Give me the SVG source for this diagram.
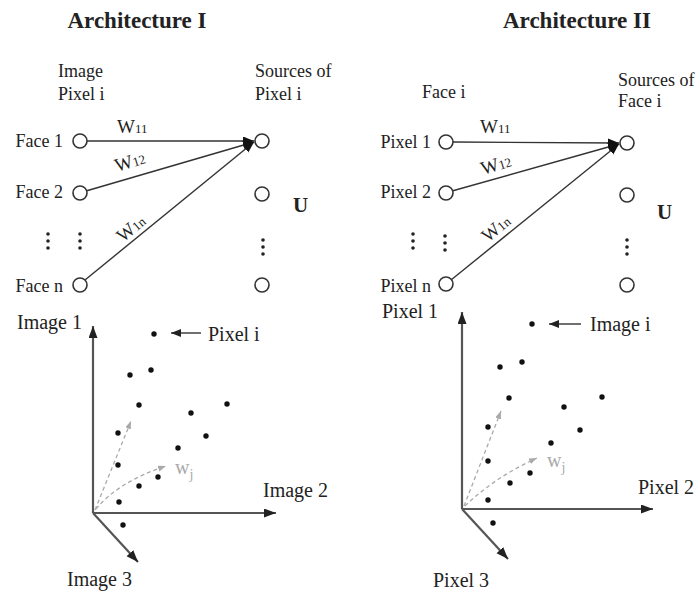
<svg xmlns="http://www.w3.org/2000/svg" width="699" height="595" viewBox="0 0 699 595">
  <style>
    text { font-family: "Liberation Serif", "Times New Roman", serif; fill: #222; }
    .title { font-size: 23px; font-weight: bold; }
    .lbl { font-size: 18px; }
    .ax { font-size: 20px; }
    .w { font-size: 19px; }
    .sub { font-size: 13px; }
    .u { font-size: 21px; font-weight: bold; }
    .node { fill: #fff; stroke: #333; stroke-width: 1.6; }
    .conn { stroke: #333; stroke-width: 1.4; fill: none; }
    .axis { stroke: #555; stroke-width: 2.2; fill: none; }
    .pt { fill: #111; }
    .ell { fill: #222; }
    .vec { stroke: #aaa; stroke-width: 1.3; stroke-dasharray: 4 3; fill: none; }
    .wj { fill: #aaa; font-size: 20px; }
  </style>
  <defs>
    <marker id="head" markerUnits="userSpaceOnUse" markerWidth="12" markerHeight="10" refX="11" refY="4.5" orient="auto">
      <path d="M0,0 L11,4.5 L0,9 z" fill="#111"/>
    </marker>
    <marker id="axhead" markerUnits="userSpaceOnUse" markerWidth="13" markerHeight="10" refX="12" refY="4.5" orient="auto">
      <path d="M0,0 L12,4.5 L0,9 z" fill="#222"/>
    </marker>
    <marker id="small" markerUnits="userSpaceOnUse" markerWidth="11" markerHeight="9" refX="10" refY="4" orient="auto">
      <path d="M0,0 L10,4 L0,8 z" fill="#222"/>
    </marker>
    <marker id="grayhead" markerUnits="userSpaceOnUse" markerWidth="9" markerHeight="8" refX="8" refY="3" orient="auto">
      <path d="M0,0 L8,3 L0,6 z" fill="#aaa"/>
    </marker>
  </defs>

  <!-- ===== Architecture I ===== -->
  <text class="title" x="137" y="28" text-anchor="middle">Architecture I</text>
  <text class="lbl" x="58" y="77">Image</text>
  <text class="lbl" x="58" y="100">Pixel i</text>
  <text class="lbl" x="255" y="77">Sources of</text>
  <text class="lbl" x="255" y="100">Pixel i</text>

  <g id="a1-face1"><text class="lbl" x="63" y="147" text-anchor="end">Face 1</text><circle class="node" cx="80" cy="141" r="7"/></g>
  <g id="a1-face2"><text class="lbl" x="63" y="198" text-anchor="end">Face 2</text><circle class="node" cx="80" cy="193" r="7"/></g>
  <g id="a1-facen"><text class="lbl" x="63" y="292" text-anchor="end">Face n</text><circle class="node" cx="80" cy="285" r="7"/></g>
  <g id="a1-ellipsis">
    <circle class="ell" cx="48" cy="234" r="1.8"/><circle class="ell" cx="48" cy="241" r="1.8"/><circle class="ell" cx="48" cy="248" r="1.8"/>
    <circle class="ell" cx="80" cy="234" r="1.8"/><circle class="ell" cx="80" cy="241" r="1.8"/><circle class="ell" cx="80" cy="248" r="1.8"/>
    <circle class="ell" cx="263" cy="240" r="1.8"/><circle class="ell" cx="263" cy="247" r="1.8"/><circle class="ell" cx="263" cy="254" r="1.8"/>
  </g>
  <g id="a1-src1"><circle class="node" cx="262" cy="141" r="7"/></g>
  <g id="a1-src2"><circle class="node" cx="262" cy="194" r="7"/></g>
  <g id="a1-srcn"><circle class="node" cx="262" cy="285" r="7"/></g>
  <text class="u" x="293" y="212">U</text>

  <g id="a1-connectors">
    <path class="conn" d="M87,141 L254,141" marker-end="url(#head)"/>
    <path class="conn" d="M86,191 L254,142" marker-end="url(#head)"/>
    <path class="conn" d="M85,280 L254,142" marker-end="url(#head)"/>
    <text class="w" x="117" y="133">W<tspan class="sub">11</tspan></text>
    <text class="w" transform="translate(117,172) rotate(-17)">W<tspan class="sub">12</tspan></text>
    <text class="w" transform="translate(123,243) rotate(-40)">W<tspan class="sub">1n</tspan></text>
  </g>

  <!-- ===== Architecture II ===== -->
  <text class="title" x="577" y="28" text-anchor="middle">Architecture II</text>
  <text class="lbl" x="422" y="98">Face i</text>
  <text class="lbl" x="618" y="86">Sources of</text>
  <text class="lbl" x="618" y="107">Face i</text>

  <g id="a2-pixel1"><text class="lbl" x="431" y="148" text-anchor="end">Pixel 1</text><circle class="node" cx="446" cy="142" r="7"/></g>
  <g id="a2-pixel2"><text class="lbl" x="431" y="198" text-anchor="end">Pixel 2</text><circle class="node" cx="446" cy="193" r="7"/></g>
  <g id="a2-pixeln"><text class="lbl" x="431" y="292" text-anchor="end">Pixel n</text><circle class="node" cx="446" cy="284" r="7"/></g>
  <g id="a2-ellipsis">
    <circle class="ell" cx="413" cy="234" r="1.8"/><circle class="ell" cx="413" cy="241" r="1.8"/><circle class="ell" cx="413" cy="248" r="1.8"/>
    <circle class="ell" cx="445" cy="236" r="1.8"/><circle class="ell" cx="445" cy="243" r="1.8"/><circle class="ell" cx="445" cy="250" r="1.8"/>
    <circle class="ell" cx="627" cy="240" r="1.8"/><circle class="ell" cx="627" cy="247" r="1.8"/><circle class="ell" cx="627" cy="254" r="1.8"/>
  </g>
  <g id="a2-src1"><circle class="node" cx="627" cy="143" r="7"/></g>
  <g id="a2-src2"><circle class="node" cx="627" cy="195" r="7"/></g>
  <g id="a2-srcn"><circle class="node" cx="627" cy="285" r="7"/></g>
  <text class="u" x="657" y="219">U</text>

  <g id="a2-connectors">
    <path class="conn" d="M453,142 L619,143" marker-end="url(#head)"/>
    <path class="conn" d="M452,191 L619,144" marker-end="url(#head)"/>
    <path class="conn" d="M451,280 L619,144" marker-end="url(#head)"/>
    <text class="w" x="480" y="133">W<tspan class="sub">11</tspan></text>
    <text class="w" transform="translate(483,175) rotate(-17)">W<tspan class="sub">12</tspan></text>
    <text class="w" transform="translate(488,243) rotate(-40)">W<tspan class="sub">1n</tspan></text>
  </g>

  <!-- ===== Scatter: pixels in image space ===== -->
  <g id="s1-axes">
    <path class="axis" d="M93,513 L93,326" marker-end="url(#axhead)"/>
    <path class="axis" d="M93,513 L276,513" marker-end="url(#axhead)"/>
    <path class="axis" d="M93,513 L138,562" marker-end="url(#axhead)"/>
  </g>
  <text class="ax" x="17" y="329">Image 1</text>
  <text class="ax" x="263" y="497">Image 2</text>
  <text class="ax" x="67" y="586">Image 3</text>
  <g id="s1-points">
    <circle class="pt" cx="154" cy="334" r="2.7"/>
    <circle class="pt" cx="130" cy="375" r="2.7"/>
    <circle class="pt" cx="151" cy="370" r="2.7"/>
    <circle class="pt" cx="139" cy="405" r="2.7"/>
    <circle class="pt" cx="191" cy="413" r="2.7"/>
    <circle class="pt" cx="227" cy="404" r="2.7"/>
    <circle class="pt" cx="118" cy="433" r="2.7"/>
    <circle class="pt" cx="206" cy="436" r="2.7"/>
    <circle class="pt" cx="178" cy="448" r="2.7"/>
    <circle class="pt" cx="118" cy="465" r="2.7"/>
    <circle class="pt" cx="158" cy="477" r="2.7"/>
    <circle class="pt" cx="139" cy="486" r="2.7"/>
    <circle class="pt" cx="119" cy="502" r="2.7"/>
    <circle class="pt" cx="123" cy="525" r="2.7"/>
  </g>
  <path class="conn" d="M201,333 L171,333" marker-end="url(#small)"/>
  <text class="ax" x="208" y="341">Pixel i</text>
  <g id="s1-vectors">
    <path class="vec" d="M95,510 L131,421" marker-end="url(#grayhead)"/>
    <path class="vec" d="M96,509 Q118,482 166,466" marker-end="url(#grayhead)"/>
  </g>
  <text class="wj" x="175" y="474">w<tspan font-size="14" dy="5">j</tspan></text>

  <!-- ===== Scatter: images in pixel space ===== -->
  <g id="s2-axes">
    <path class="axis" d="M462,509 L462,312" marker-end="url(#axhead)"/>
    <path class="axis" d="M462,509 L653,509" marker-end="url(#axhead)"/>
    <path class="axis" d="M462,509 L508,559" marker-end="url(#axhead)"/>
  </g>
  <text class="ax" x="382" y="318">Pixel 1</text>
  <text class="ax" x="638" y="494">Pixel 2</text>
  <text class="ax" x="433" y="587">Pixel 3</text>
  <g id="s2-points">
    <circle class="pt" cx="532" cy="324" r="2.7"/>
    <circle class="pt" cx="500" cy="367" r="2.7"/>
    <circle class="pt" cx="522" cy="362" r="2.7"/>
    <circle class="pt" cx="509" cy="398" r="2.7"/>
    <circle class="pt" cx="564" cy="407" r="2.7"/>
    <circle class="pt" cx="602" cy="397" r="2.7"/>
    <circle class="pt" cx="488" cy="427" r="2.7"/>
    <circle class="pt" cx="580" cy="430" r="2.7"/>
    <circle class="pt" cx="551" cy="443" r="2.7"/>
    <circle class="pt" cx="488" cy="461" r="2.7"/>
    <circle class="pt" cx="530" cy="473" r="2.7"/>
    <circle class="pt" cx="510" cy="483" r="2.7"/>
    <circle class="pt" cx="488" cy="500" r="2.7"/>
    <circle class="pt" cx="493" cy="523" r="2.7"/>
  </g>
  <path class="conn" d="M581,324 L549,324" marker-end="url(#small)"/>
  <text class="ax" x="590" y="331">Image i</text>
  <g id="s2-vectors">
    <path class="vec" d="M464,506 L501,411" marker-end="url(#grayhead)"/>
    <path class="vec" d="M465,506 Q495,477 537,458" marker-end="url(#grayhead)"/>
  </g>
  <text class="wj" x="547" y="467">w<tspan font-size="14" dy="5">j</tspan></text>
</svg>
